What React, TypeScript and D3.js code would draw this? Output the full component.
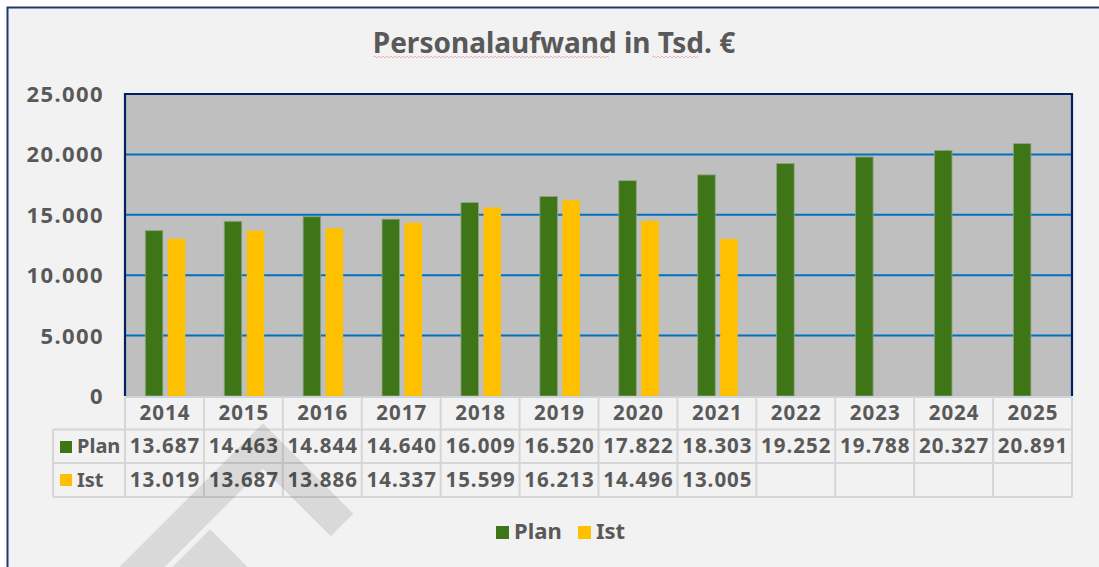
import React from "react";
import { scaleBand, scaleLinear } from "d3";

// values in Tsd. €
const years = ["2014", "2015", "2016", "2017", "2018", "2019", "2020", "2021", "2022", "2023", "2024", "2025"];
const plan = [13687, 14463, 14844, 14640, 16009, 16520, 17822, 18303, 19252, 19788, 20327, 20891];
const ist: (number | null)[] = [13019, 13687, 13886, 14337, 15599, 16213, 14496, 13005, null, null, null, null];
const yTicks = [0, 5000, 10000, 15000, 20000, 25000];
const seriesNames = ["Plan", "Ist"];

const W = 1099;
const H = 567;
const plot = { left: 125, right: 1072, top: 94, bottom: 396 };
const textColor = "#595959";
const green = "#3e7617";
const yellow = "#ffc000";
const font = "'Noto Sans', 'DejaVu Sans', sans-serif";

const fmt = (v: number) => (v === 0 ? "0" : v.toLocaleString("de-DE"));

// simple wavy underline (spellcheck mark in the original)
function squiggle(x0: number, x1: number, y: number) {
  let d = `M${x0},${y}`;
  for (let x = x0, up = true; x < x1; x += 2, up = !up) d += ` L${x + 2},${up ? y - 1 : y + 1}`;
  return d;
}

export default function App() {
  const x0 = scaleBand<string>().domain(years).range([plot.left, plot.right]);
  const x1 = scaleBand<string>().domain(seriesNames).range([20.3, 60.3]).paddingInner(0.22);
  const y = scaleLinear().domain([0, 25000]).range([plot.bottom, plot.top]);

  const rowTop = [397, 429.5, 463, 497];
  const tableLeft = 53;
  const cellLines = years.map((_, i) => plot.left + i * x0.step()).concat(plot.right);

  return (
    <svg width={W} height={H} style={{ position: "absolute", left: 0, top: 0 }} fontFamily={font}>
      <rect x={0} y={0} width={W} height={H} fill="#ffffff" />
      <rect x={7.5} y={7.5} width={W + 40} height={H + 40} fill="#f2f2f2" stroke="#1f3873" strokeWidth={2} />

      {/* title */}
      <text x={554} y={53} textAnchor="middle" fontSize={28} fontWeight="bold" fill={textColor}>
        Personalaufwand in Tsd. €
      </text>
      <path d={squiggle(373, 608, 57)} fill="none" stroke="#f0a0a8" strokeWidth={0.8} />
      <path d={squiggle(652, 698, 57)} fill="none" stroke="#f0a0a8" strokeWidth={0.8} />

      {/* plot area */}
      <rect x={plot.left} y={plot.top} width={plot.right - plot.left} height={plot.bottom - plot.top} fill="#bfbfbf" />
      {yTicks.slice(1, -1).map((t) => (
        <line key={t} x1={plot.left} x2={plot.right} y1={y(t)} y2={y(t)} stroke="#0070c0" strokeWidth={2} />
      ))}
      {years.map((yr, i) => (
        <g key={yr} transform={`translate(${x0(yr)},0)`}>
          <rect x={x1("Plan")} y={y(plan[i])} width={x1.bandwidth()} height={y(0) - y(plan[i])} fill={green} stroke="#8fa382" strokeWidth={0.8} />
          {ist[i] != null && (
            <rect x={x1("Ist")} y={y(ist[i] as number)} width={x1.bandwidth()} height={y(0) - y(ist[i] as number)} fill={yellow} />
          )}
        </g>
      ))}
      <path
        d={`M${plot.left},${plot.bottom} V${plot.top} H${plot.right} V${plot.bottom}`}
        fill="none"
        stroke="#002060"
        strokeWidth={2.2}
      />

      {/* y axis labels */}
      {yTicks.map((t) => (
        <text key={t} x={104} y={y(t)} dy="0.36em" textAnchor="end" fontSize={22} fontWeight="bold" fill={textColor} letterSpacing={1.4}>
          {fmt(t)}
        </text>
      ))}

      {/* data table */}
      <g stroke="#d6d6d6" strokeWidth={2} fill="none">
        <line x1={plot.left} x2={plot.right} y1={rowTop[0]} y2={rowTop[0]} stroke="#cdd3da" />
        {rowTop.slice(1).map((ry) => (
          <line key={ry} x1={tableLeft} x2={plot.right} y1={ry} y2={ry} />
        ))}
        {cellLines.map((cx, i) => (
          <line key={i} x1={cx} x2={cx} y1={rowTop[0]} y2={rowTop[3]} />
        ))}
        <line x1={tableLeft} x2={tableLeft} y1={rowTop[1]} y2={rowTop[3]} />
      </g>
      {years.map((yr, i) => {
        const cx = (x0(yr) as number) + x0.step() / 2;
        return (
          <g key={yr} textAnchor="middle" fontSize={20.5} fontWeight="bold" fill={textColor} letterSpacing={1}>
            <text x={cx + 0.5} y={420}>{yr}</text>
            <text x={cx + 0.5} y={453}>{fmt(plan[i])}</text>
            {ist[i] != null && <text x={cx + 0.5} y={487}>{fmt(ist[i] as number)}</text>}
          </g>
        );
      })}
      <rect x={60} y={441} width={12} height={12} fill={green} />
      <text x={77} y={453} fontSize={20} fontWeight="bold" fill={textColor}>Plan</text>
      <rect x={60} y={474} width={12} height={12} fill={yellow} />
      <text x={77} y={487} fontSize={20} fontWeight="bold" fill={textColor}>Ist</text>

      {/* legend */}
      <rect x={496} y={526} width={13} height={13} fill={green} />
      <text x={514} y={539} fontSize={22} fontWeight="bold" fill={textColor}>Plan</text>
      <rect x={578} y={526} width={13} height={13} fill={yellow} />
      <text x={596} y={539} fontSize={22} fontWeight="bold" fill={textColor}>Ist</text>

      {/* watermark fragment */}
      <g fill="none" stroke="#000" strokeOpacity={0.1} strokeWidth={32} strokeLinejoin="miter">
        <polyline points="100,609 263,446 342,525" />
        <polyline points="150,612 210,552 270,612" />
      </g>
    </svg>
  );
}
